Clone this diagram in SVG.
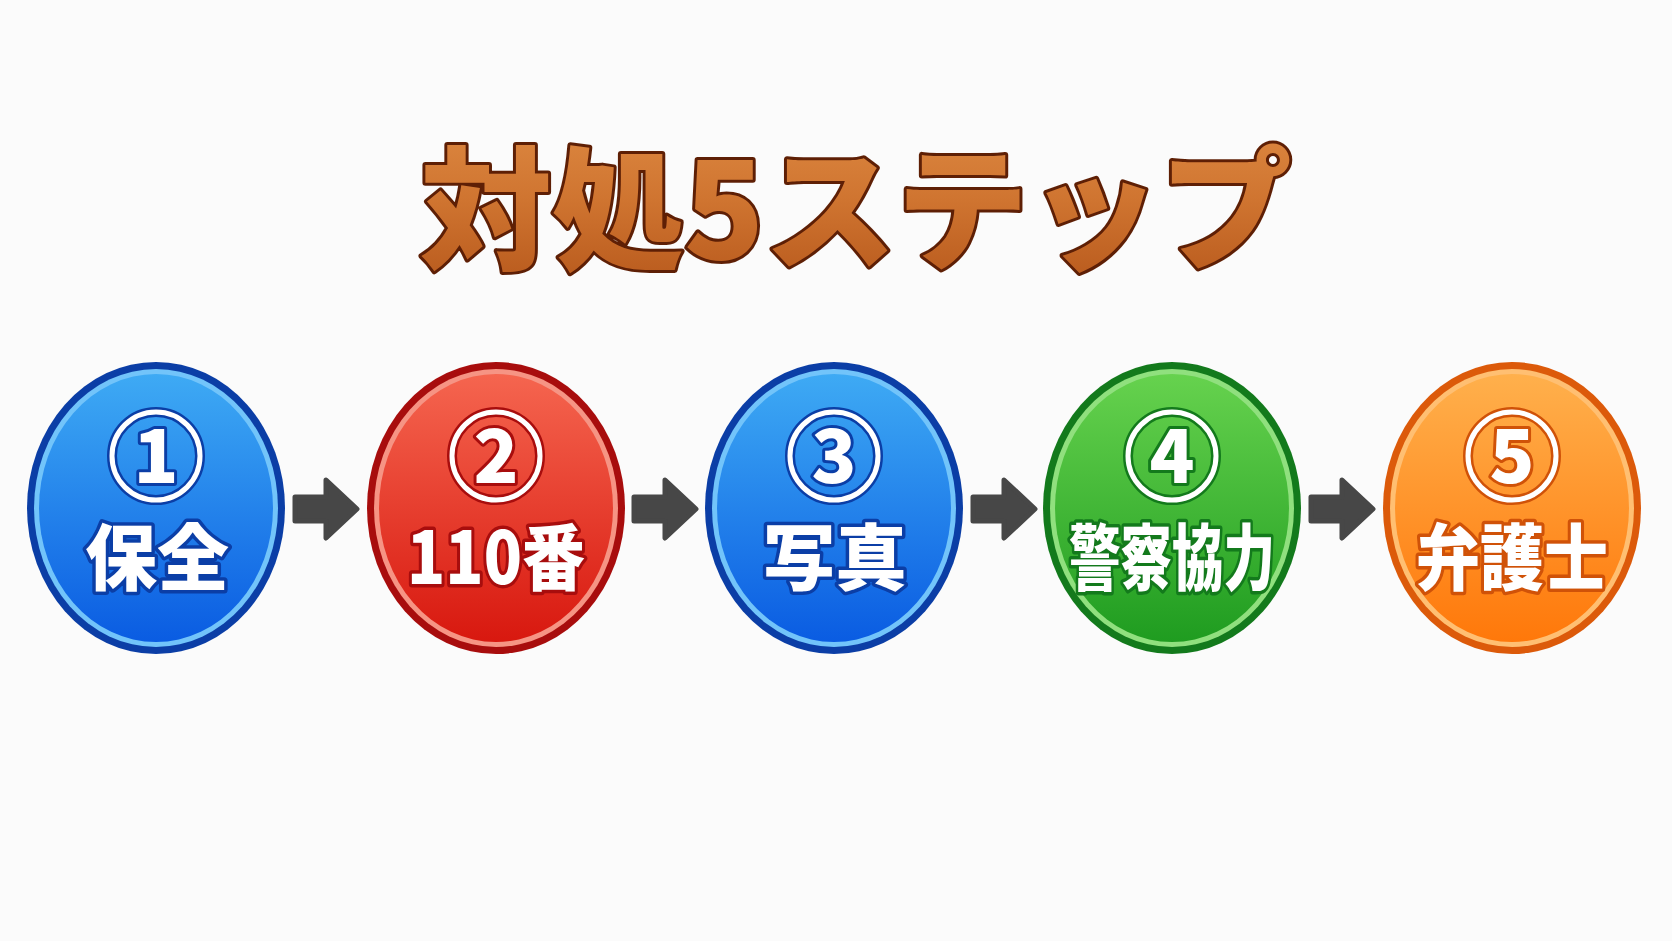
<svg xmlns="http://www.w3.org/2000/svg" width="1672" height="941" viewBox="0 0 1672 941">
<defs>
<linearGradient id="gTitle" x1="0" y1="0" x2="0" y2="1">
<stop offset="0" stop-color="#e08c44"/><stop offset="0.5" stop-color="#cf7430"/><stop offset="1" stop-color="#b5561a"/>
</linearGradient>
<linearGradient id="gBlue" x1="0" y1="0" x2="0" y2="1">
<stop offset="0" stop-color="#3eaaf4"/><stop offset="1" stop-color="#0a5ce2"/>
</linearGradient>
<linearGradient id="gRed" x1="0" y1="0" x2="0" y2="1">
<stop offset="0" stop-color="#f5654f"/><stop offset="1" stop-color="#d8180f"/>
</linearGradient>
<linearGradient id="gGreen" x1="0" y1="0" x2="0" y2="1">
<stop offset="0" stop-color="#66d24e"/><stop offset="1" stop-color="#1f9c20"/>
</linearGradient>
<linearGradient id="gOrange" x1="0" y1="0" x2="0" y2="1">
<stop offset="0" stop-color="#ffb04c"/><stop offset="1" stop-color="#ff780a"/>
</linearGradient>
</defs>
<style>
.title{font-family:"Noto Sans CJK JP","Noto Sans CJK SC",sans-serif;font-weight:900;font-size:133px;fill:url(#gTitle);stroke:#5e1f05;stroke-width:6;paint-order:stroke;stroke-linejoin:round}
.lbl{font-family:"Noto Sans CJK JP","Noto Sans CJK SC",sans-serif;font-weight:900;font-size:72px;fill:#ffffff;stroke-width:7;paint-order:stroke;stroke-linejoin:round;text-anchor:middle}
.num{font-family:"Noto Sans CJK JP","Noto Sans CJK SC",sans-serif;font-weight:900;font-size:74px;fill:#ffffff;stroke-width:6;paint-order:stroke;stroke-linejoin:round;text-anchor:middle}
.arrow{fill:#474747;stroke:#474747;stroke-width:5;stroke-linejoin:round}
.ringw{fill:none;stroke:#ffffff;stroke-width:5}
</style>
<rect width="1672" height="941" fill="#fbfbfb"/>
<g id="title">
<text class="title" x="856" y="259" text-anchor="middle" textLength="872" lengthAdjust="spacingAndGlyphs">対処5ステップ</text>
</g>
<g id="connectors">
<path class="arrow" d="M295 497 H326 V480 L357 509 L326 538 V521 H295 Z"/>
<path class="arrow" d="M634 497 H665 V480 L696 509 L665 538 V521 H634 Z"/>
<path class="arrow" d="M973 497 H1004 V480 L1035 509 L1004 538 V521 H973 Z"/>
<path class="arrow" d="M1311 497 H1342 V480 L1373 509 L1342 538 V521 H1311 Z"/>
</g>
<g id="step1">
<ellipse cx="156" cy="508" rx="129" ry="146" fill="#0b3ea6"/>
<ellipse cx="156" cy="508" rx="122" ry="139" fill="#72c4fa"/>
<ellipse cx="156" cy="508" rx="117" ry="134" fill="url(#gBlue)"/>
<circle cx="156" cy="456" r="44" fill="none" stroke="#0b3ea6" stroke-width="10"/>
<circle class="ringw" cx="156" cy="456" r="44"/>
<text class="num" x="156" y="483" stroke="#0b3ea6">1</text>
<text class="lbl" x="157" y="584" stroke="#0b3ea6">保全</text>
</g>
<g id="step2">
<ellipse cx="496" cy="508" rx="129" ry="146" fill="#a80d0d"/>
<ellipse cx="496" cy="508" rx="122" ry="139" fill="#f69484"/>
<ellipse cx="496" cy="508" rx="117" ry="134" fill="url(#gRed)"/>
<circle cx="496" cy="456" r="44" fill="none" stroke="#a80d0d" stroke-width="10"/>
<circle class="ringw" cx="496" cy="456" r="44"/>
<text class="num" x="496" y="483" stroke="#a80d0d">2</text>
<text class="lbl" x="496" y="584" stroke="#a80d0d" textLength="178" lengthAdjust="spacingAndGlyphs">110番</text>
</g>
<g id="step3">
<ellipse cx="834" cy="508" rx="129" ry="146" fill="#0b3ea6"/>
<ellipse cx="834" cy="508" rx="122" ry="139" fill="#72c4fa"/>
<ellipse cx="834" cy="508" rx="117" ry="134" fill="url(#gBlue)"/>
<circle cx="834" cy="456" r="44" fill="none" stroke="#0b3ea6" stroke-width="10"/>
<circle class="ringw" cx="834" cy="456" r="44"/>
<text class="num" x="834" y="483" stroke="#0b3ea6">3</text>
<text class="lbl" x="835" y="584" stroke="#0b3ea6">写真</text>
</g>
<g id="step4">
<ellipse cx="1172" cy="508" rx="129" ry="146" fill="#137a1c"/>
<ellipse cx="1172" cy="508" rx="122" ry="139" fill="#90e07e"/>
<ellipse cx="1172" cy="508" rx="117" ry="134" fill="url(#gGreen)"/>
<circle cx="1172" cy="456" r="44" fill="none" stroke="#137a1c" stroke-width="10"/>
<circle class="ringw" cx="1172" cy="456" r="44"/>
<text class="num" x="1172" y="483" stroke="#137a1c">4</text>
<text class="lbl" x="1172" y="584" stroke="#137a1c" textLength="206" lengthAdjust="spacingAndGlyphs">警察協力</text>
</g>
<g id="step5">
<ellipse cx="1512" cy="508" rx="129" ry="146" fill="#dc5a0a"/>
<ellipse cx="1512" cy="508" rx="122" ry="139" fill="#ffbf72"/>
<ellipse cx="1512" cy="508" rx="117" ry="134" fill="url(#gOrange)"/>
<circle cx="1512" cy="456" r="44" fill="none" stroke="#d05208" stroke-width="10"/>
<circle class="ringw" cx="1512" cy="456" r="44"/>
<text class="num" x="1512" y="483" stroke="#d05208">5</text>
<text class="lbl" x="1512" y="584" stroke="#d05208" textLength="192" lengthAdjust="spacingAndGlyphs">弁護士</text>
</g>
</svg>
